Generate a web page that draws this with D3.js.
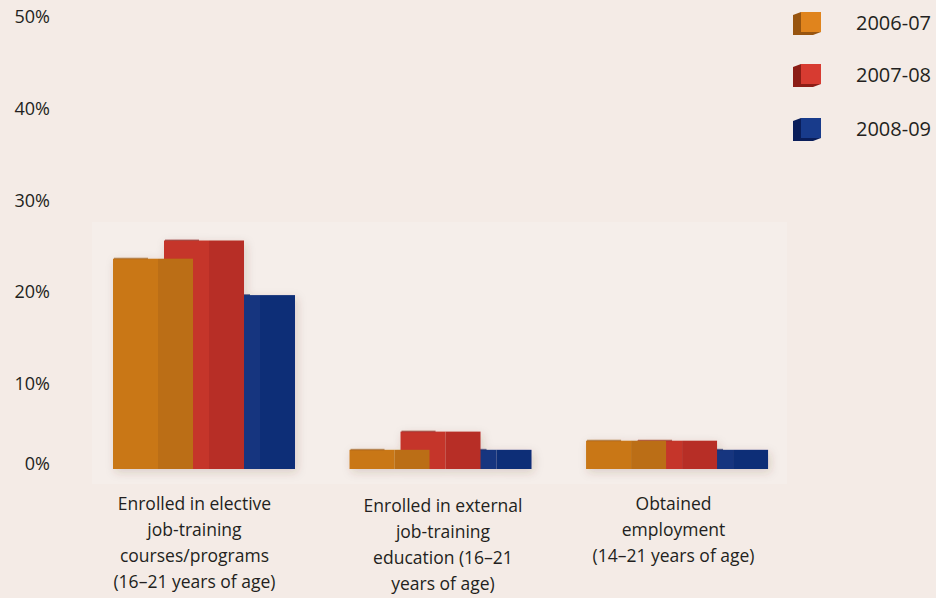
<!DOCTYPE html>
<html>
<head>
<meta charset="utf-8">
<script src="https://cdn.jsdelivr.net/npm/d3@7"></script>
<style>
  body { margin: 0; background: #f4ebe6; }
  svg { display: block; font-family: "Open Sans", "Noto Sans", sans-serif; }
</style>
</head>
<body>
<svg id="chart" width="936" height="598"></svg>
<script>
const categories = [
  ["Enrolled in elective", "job-training", "courses/programs", "(16–21 years of age)"],
  ["Enrolled in external", "job-training", "education (16–21", "years of age)"],
  ["Obtained", "employment", "(14–21 years of age)"]
];
const series = ["2006-07", "2007-08", "2008-09"];
const values2006 = [23, 2, 3];
const values2007 = [25, 4, 3];
const values2008 = [19, 2, 2];
const yTicks = [0, 10, 20, 30, 40, 50];

const allValues = [values2006, values2007, values2008];

// light face, dark face, legend front, legend side
const colors = {
  "2006-07": { light: "#c97716", dark: "#bb6e14", front: "#e0841d", side: "#985510" },
  "2007-08": { light: "#c5352b", dark: "#b72f26", front: "#d73b31", side: "#8c1d16" },
  "2008-09": { light: "#15357f", dark: "#102d77", front: "#183b8b", side: "#0a1e5a" }
};

const labelShift = [-9, 3, -3];

const svg = d3.select('#chart');

const defs = svg.append('defs');
defs.append('filter')
  .attr('id', 'shadow')
  .attr('x', '-20%').attr('y', '-20%').attr('width', '140%').attr('height', '140%')
  .append('feDropShadow')
  .attr('dx', 2).attr('dy', 3)
  .attr('stdDeviation', 5)
  .attr('flood-color', '#5a3a30')
  .attr('flood-opacity', 0.18);

// faint lighter panel behind the plot
svg.append('rect')
  .attr('x', 92).attr('y', 222)
  .attr('width', 695).attr('height', 262)
  .attr('fill', '#f5eeea');

const y = d3.scaleLinear()
  .domain([0, 50])
  .range([468, 13]);

const x = d3.scaleBand()
  .domain(d3.range(categories.length))
  .range([113, 767])
  .paddingInner(0.235)
  .paddingOuter(0);

const xs = d3.scalePoint()
  .domain(series)
  .range([0, 102]);

const barWidth = 80;
const lightWidth = 45;

// y labels
svg.append('g')
  .selectAll('text')
  .data(yTicks)
  .enter().append('text')
  .attr('x', 50)
  .attr('y', d => y(d) + (d === 0 ? -4 : 7 - d * 0.06))
  .attr('dy', '0.35em')
  .attr('text-anchor', 'end')
  .attr('font-size', '18px')
  .attr('fill', '#231f20')
  .text(d => d + '%');

// bars: draw last series first so earlier ones overlap
const plot = svg.append('g').attr('filter', 'url(#shadow)');

series.slice().reverse().forEach(s => {
  const vals = allValues[series.indexOf(s)];
  const g = plot.append('g').selectAll('g')
    .data(vals)
    .enter().append('g')
    .attr('transform', (d, i) => `translate(${x(i) + xs(s)},0)`);

  g.append('rect')
    .attr('x', 0)
    .attr('y', d => y(d))
    .attr('width', lightWidth)
    .attr('height', d => y(0) - y(d) + 1)
    .attr('fill', colors[s].light);

  g.append('rect')
    .attr('x', lightWidth)
    .attr('y', d => y(d))
    .attr('width', barWidth - lightWidth)
    .attr('height', d => y(0) - y(d) + 1)
    .attr('fill', colors[s].dark);

  // thin top edge
  g.append('rect')
    .attr('x', 1)
    .attr('y', d => y(d) - 1)
    .attr('width', 34)
    .attr('height', 1.5)
    .attr('fill', colors[s].side)
    .attr('opacity', 0.6);
});

// category labels
const labels = svg.append('g')
  .selectAll('text')
  .data(categories)
  .enter().append('text')
  .attr('x', (d, i) => x(i) + x.bandwidth() / 2 + labelShift[i])
  .attr('y', (d, i) => i === 1 ? 512 : 510)
  .attr('text-anchor', 'middle')
  .attr('font-size', '17.5px')
  .attr('fill', '#231f20');

labels.selectAll('tspan')
  .data(d => d)
  .enter().append('tspan')
  .attr('x', function() { return d3.select(this.parentNode).attr('x'); })
  .attr('dy', (d, i) => i === 0 ? 0 : 26)
  .text(d => d);

// legend
const legend = svg.append('g')
  .selectAll('g')
  .data(series)
  .enter().append('g')
  .attr('transform', (d, i) => `translate(0, ${[12, 64, 118][i]})`);

legend.append('polygon')
  .attr('points', '801,0 793,3 793,23 813,23 821,20 801,20')
  .attr('fill', d => colors[d].side);

legend.append('rect')
  .attr('x', 801).attr('y', 0)
  .attr('width', 20).attr('height', 20)
  .attr('fill', d => colors[d].front);

legend.append('text')
  .attr('x', 856)
  .attr('y', 11)
  .attr('dy', '0.35em')
  .attr('font-size', '20px')
  .attr('fill', '#231f20')
  .text(d => d);
</script>
</body>
</html>
